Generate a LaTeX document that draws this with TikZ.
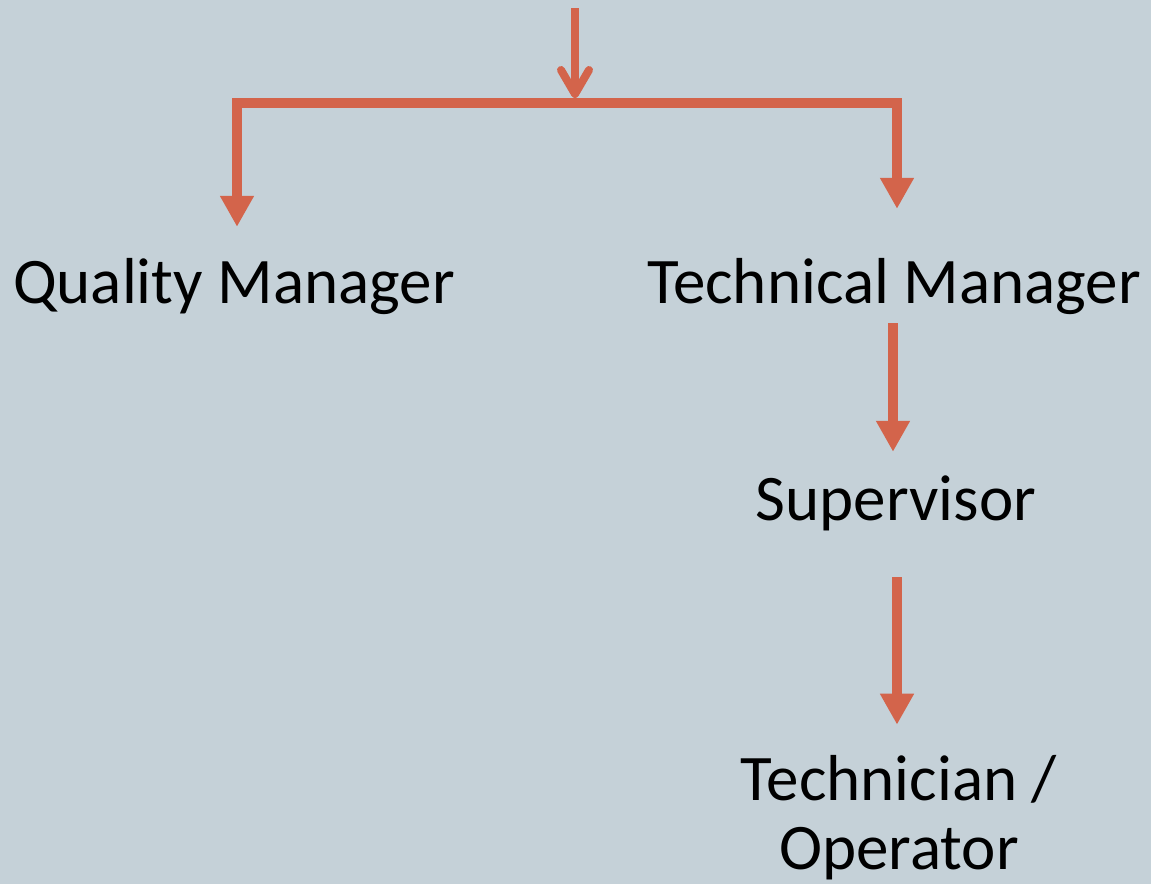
\documentclass[tikz,border=0pt]{standalone}
\usepackage{fontspec}
\setmainfont{Carlito}
\usetikzlibrary{arrows.meta}
\definecolor{slate}{HTML}{C5D1D8}
\definecolor{rust}{HTML}{D3644B}
\tikzset{
  role/.style={anchor=base,inner sep=0pt,text height=48pt,text depth=16pt,
    font=\fontsize{65}{69}\selectfont},
  link/.style={draw=rust,line width=10pt,-{Triangle[width=32pt,length=31pt]}},
  feed/.style={draw=rust,line width=8pt,-{Straight Barb[width=28pt,length=24pt,round]}}
}
\begin{document}
\begin{tikzpicture}[x=1pt,y=-1pt]
  \fill[slate] (0,0) rectangle (1151,884);
  \useasboundingbox (0,0) rectangle (1151,884);
  % roles
  \node[role] (qm) at (234,303) {Quality Manager};
  \node[role] (tm) at (894,303) {Technical Manager};
  \node[role] (sup) at (896,520) {Supervisor};
  \node[anchor=base,inner sep=0pt,align=center,font=\fontsize{65}{69}\selectfont]
    (tech) at (899,869) {Technician /\\Operator};
  % incoming line and the branch bar
  \coordinate (src) at (575,8);
  \coordinate (hub) at (575,103);
  \draw[feed,shorten >=5pt] (src) -- (hub);
  \draw[link,shorten >=28pt] (hub) -| ([xshift=3pt]qm.north);
  \draw[link,shorten >=46pt] (hub) -| ([xshift=3pt]tm.north);
  % down the technical side
  \draw[link,shorten <=4pt,shorten >=20pt] ([xshift=-1pt]tm.south) -- ([xshift=-1pt]tm.south |- sup.north);
  \draw[link,shorten <=41pt,shorten >=30pt] ([xshift=1pt]sup.south) -- ([xshift=1pt]sup.south |- tech.north);
\end{tikzpicture}
\end{document}
